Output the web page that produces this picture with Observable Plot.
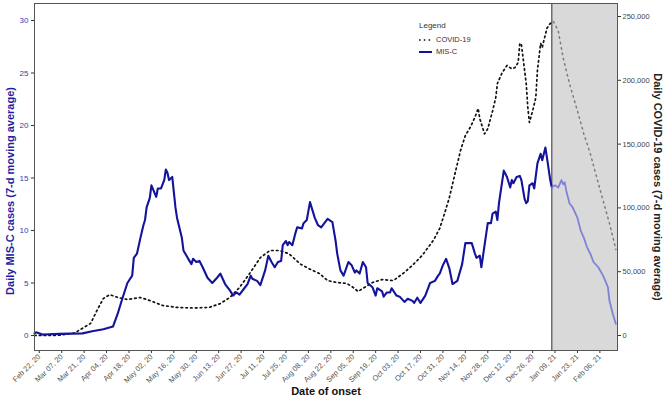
<!DOCTYPE html>
<html>
<head>
<meta charset="utf-8">
<script src="https://cdn.jsdelivr.net/npm/d3@7"></script>
<script src="https://cdn.jsdelivr.net/npm/@observablehq/plot@0.6"></script>
<style>
  body { margin: 0; background: #fff; font-family: "Liberation Sans", Arial, sans-serif; }
  #wrap { position: relative; width: 664px; height: 402px; }
  #legend { position: absolute; left: 419px; top: 20px; font-size: 7.5px; color: #333; line-height: 12.5px; }
  #legend .row { display: flex; align-items: center; }
  #legend svg { margin-right: 4px; }
</style>
</head>
<body>
<div id="wrap">
  <div id="chart"></div>
  <div id="legend"></div>
</div>
<script>
// ---- data ----
const misDates = ["2020-02-19","2020-02-20","2020-02-24","2020-03-06","2020-03-20","2020-03-26","2020-04-02","2020-04-08","2020-04-11","2020-04-14","2020-04-17","2020-04-20","2020-04-21","2020-04-23","2020-04-25","2020-04-27","2020-04-28","2020-04-29","2020-05-01","2020-05-02","2020-05-05","2020-05-06","2020-05-08","2020-05-10","2020-05-11","2020-05-12","2020-05-13","2020-05-15","2020-05-17","2020-05-18","2020-05-21","2020-05-22","2020-05-25","2020-05-27","2020-05-28","2020-05-30","2020-06-01","2020-06-03","2020-06-06","2020-06-09","2020-06-12","2020-06-14","2020-06-17","2020-06-20","2020-06-22","2020-06-24","2020-06-26","2020-06-29","2020-07-01","2020-07-03","2020-07-04","2020-07-07","2020-07-09","2020-07-12","2020-07-14","2020-07-16","2020-07-18","2020-07-20","2020-07-22","2020-07-23","2020-07-25","2020-07-26","2020-07-27","2020-07-29","2020-07-31","2020-08-01","2020-08-04","2020-08-05","2020-08-07","2020-08-09","2020-08-12","2020-08-14","2020-08-16","2020-08-18","2020-08-20","2020-08-23","2020-08-25","2020-08-26","2020-08-28","2020-08-30","2020-09-02","2020-09-04","2020-09-06","2020-09-07","2020-09-09","2020-09-11","2020-09-13","2020-09-14","2020-09-17","2020-09-19","2020-09-20","2020-09-23","2020-09-24","2020-09-26","2020-09-28","2020-09-29","2020-10-02","2020-10-04","2020-10-07","2020-10-09","2020-10-12","2020-10-13","2020-10-15","2020-10-17","2020-10-20","2020-10-23","2020-10-26","2020-10-28","2020-10-29","2020-10-31","2020-11-02","2020-11-04","2020-11-06","2020-11-09","2020-11-12","2020-11-14","2020-11-16","2020-11-18","2020-11-20","2020-11-21","2020-11-23","2020-11-24","2020-11-28","2020-11-30","2020-12-01","2020-12-03","2020-12-04","2020-12-05","2020-12-08","2020-12-09","2020-12-10","2020-12-12","2020-12-13","2020-12-14","2020-12-16","2020-12-18","2020-12-19","2020-12-21","2020-12-22","2020-12-23","2020-12-24","2020-12-26","2020-12-27","2020-12-29","2020-12-31","2021-01-01","2021-01-03","2021-01-04","2021-01-06","2021-01-07","2021-01-09","2021-01-11","2021-01-13","2021-01-14","2021-01-15","2021-01-16","2021-01-18","2021-01-20","2021-01-23","2021-01-25","2021-01-27","2021-01-29","2021-01-31","2021-02-02","2021-02-05","2021-02-08","2021-02-11","2021-02-12","2021-02-14","2021-02-16"];
const misValues = [0.2,0.3,0.1,0.15,0.2,0.4,0.6,0.85,2.1,3.6,5.0,5.7,7.4,7.8,9.2,10.5,11,12.2,13.1,14.3,13.2,14,14,14.8,15.8,15.5,14.8,15.1,12.2,11.2,9.3,8.1,7.3,6.8,7.3,7.0,7.1,6.5,5.5,5.0,5.5,5.9,4.9,4.3,3.8,4.1,3.9,4.5,4.9,5.7,5.4,5.2,4.8,6.2,7.6,7.0,6.5,7.0,7.1,8.6,9.0,8.6,8.9,8.6,9.8,10.3,10.2,10.7,11.0,12.7,11.2,10.5,10.3,10.7,11.1,10.8,9.0,7.8,6.2,5.7,7.0,6.7,6.0,6.2,5.9,7.0,6.5,5.0,4.6,3.8,4.5,4.2,3.7,4.1,4.1,4.5,3.8,3.7,3.2,3.5,3.3,3.1,3.6,3.1,3.8,5.0,5.2,5.7,5.9,6.7,7.3,6.4,4.9,5.2,6.8,8.8,8.8,8.8,7.8,7.4,7.6,6.5,10.7,10.7,11.6,11.8,11.0,12.6,15.7,15.4,15.1,14.1,14.8,14.5,15.1,15.2,14.8,13.0,12.6,12.8,14.3,14.5,14.0,16.4,17.3,16.7,17.9,16.9,14.8,14.1,14.3,14.1,14.8,14.4,14.6,13.8,12.6,12.2,11.2,10.0,9.3,8.4,7.8,7.0,6.5,5.7,4.6,3.3,2.1,1.1];

const covidDates = ["2020-02-19","2020-03-06","2020-03-15","2020-03-25","2020-03-29","2020-04-02","2020-04-06","2020-04-11","2020-04-17","2020-04-25","2020-05-01","2020-05-09","2020-05-18","2020-05-28","2020-06-07","2020-06-14","2020-06-20","2020-06-26","2020-07-02","2020-07-09","2020-07-15","2020-07-21","2020-07-27","2020-08-03","2020-08-09","2020-08-15","2020-08-20","2020-08-26","2020-09-01","2020-09-05","2020-09-08","2020-09-12","2020-09-17","2020-09-23","2020-09-30","2020-10-06","2020-10-12","2020-10-18","2020-10-25","2020-10-29","2020-11-01","2020-11-04","2020-11-07","2020-11-11","2020-11-14","2020-11-17","2020-11-20","2020-11-22","2020-11-23","2020-11-24","2020-11-26","2020-11-28","2020-12-01","2020-12-03","2020-12-04","2020-12-07","2020-12-10","2020-12-13","2020-12-15","2020-12-17","2020-12-18","2020-12-19","2020-12-20","2020-12-22","2020-12-23","2020-12-24","2020-12-26","2020-12-28","2020-12-29","2020-12-31","2021-01-01","2021-01-02","2021-01-04","2021-01-06","2021-01-08","2021-01-11","2021-01-14","2021-01-18","2021-01-23","2021-01-27","2021-01-31","2021-02-04","2021-02-08","2021-02-12","2021-02-16"];
const covidValues = [0,200,2000,9400,19600,29000,32000,29800,28200,29800,27400,23500,22000,21500,22000,25000,29800,37600,48000,61000,66600,66600,64000,56000,52000,48500,43000,41500,40800,37600,34500,37600,41500,43900,43000,48500,55000,62700,74500,83900,95600,108000,124000,145000,156700,163000,171000,178000,170000,166000,158000,162000,176000,186500,197500,206000,211600,209000,210000,214000,229000,228000,218000,197500,178700,167000,176000,186500,207700,229000,225700,231000,241000,244500,246000,239000,218000,197500,176000,158000,142600,124000,105800,87800,67400];

const xTickDates = ["2020-02-22","2020-03-07","2020-03-21","2020-04-04","2020-04-18","2020-05-02","2020-05-16","2020-05-30","2020-06-13","2020-06-27","2020-07-11","2020-07-25","2020-08-08","2020-08-22","2020-09-05","2020-09-19","2020-10-03","2020-10-17","2020-10-31","2020-11-14","2020-11-28","2020-12-12","2020-12-26","2021-01-09","2021-01-23","2021-02-06"];
const leftTicks = [0, 5, 10, 15, 20, 25, 30];
const rightTicks = [0, 50000, 100000, 150000, 200000, 250000];
const seriesNames = ["COVID-19", "MIS-C"];
const legendTitle = "Legend";
const xTitle = "Date of onset";
const leftTitle = "Daily MIS-C cases (7-d moving average)";
const rightTitle = "Daily COVID-19 cases (7-d moving average)";
const shadeStart = "2021-01-07";
const xDomain = ["2020-02-19", "2021-02-17"];
const covidPerMisUnit = 8229; // 250,000 on the right axis sits at ~30.4 on the left axis

// ---- build ----
const D = s => new Date(s + "T00:00:00Z");
const mis = misDates.map((d, i) => ({date: D(d), value: misValues[i]}));
const covid = covidDates.map((d, i) => ({date: D(d), value: covidValues[i] / covidPerMisUnit}));
const cut = D(shadeStart);
const misPre = mis.filter(d => d.date <= cut);
const misPost = mis.filter(d => d.date >= cut);
const firstCovPost = covid.find(d => d.date >= cut).date;
const covPre = covid.filter(d => d.date <= firstCovPost);
const covPost = covid.filter(d => d.date >= firstCovPost);

const darkBlue = "#13139b";
const lightBlue = "#7f82d8";
const font = "'Liberation Sans', Arial, sans-serif";

const chart = Plot.plot({
  width: 664,
  height: 402,
  marginLeft: 34,
  marginRight: 47,
  marginTop: 3,
  marginBottom: 52,
  style: {fontFamily: font, background: "#fff", overflow: "visible"},
  x: {type: "utc", domain: xDomain.map(D)},
  y: {domain: [-1.43, 31.62]},
  marks: [
    Plot.rect([{a: cut, b: D(xDomain[1])}], {x1: "a", x2: "b", fill: "#d9d9d9"}),
    Plot.ruleX([cut], {stroke: "#333", strokeWidth: 1}),
    Plot.line(covPre, {x: "date", y: "value", stroke: "#111", strokeWidth: 1.7, strokeDasharray: "1.6,3.2"}),
    Plot.line(covPost, {x: "date", y: "value", stroke: "#7a7a7a", strokeWidth: 1.5, strokeDasharray: "1.5,4"}),
    Plot.line(misPre, {x: "date", y: "value", stroke: darkBlue, strokeWidth: 2.1}),
    Plot.line(misPost, {x: "date", y: "value", stroke: lightBlue, strokeWidth: 1.8}),
    Plot.axisX(xTickDates.map(D), {
      tickFormat: d3.utcFormat("%b %d, %y"), tickRotate: -45, tickSize: 3, tickPadding: 2,
      fontSize: 7.5, fill: "#555", stroke: "#333", label: null
    }),
    Plot.axisY(leftTicks, {anchor: "left", tickSize: 3, tickPadding: 3, fontSize: 8, fill: "#3a3ab2", stroke: "#333", label: null}),
    Plot.axisY(rightTicks.map(r => r / covidPerMisUnit), {
      anchor: "right", tickSize: 3, tickPadding: 2, fontSize: 7.5, fill: "#444", stroke: "#333", label: null,
      tickFormat: d => d3.format(",")(Math.round(d * covidPerMisUnit / 1000) * 1000)
    }),
    Plot.frame({stroke: "#555", strokeWidth: 1}),
    Plot.text([leftTitle], {text: d => d, frameAnchor: "left", textAnchor: "middle", rotate: -90, dx: -24, dy: 14, fontSize: 11, fontWeight: "bold", fill: "#1f1fa3"}),
    Plot.text([rightTitle], {text: d => d, frameAnchor: "right", textAnchor: "middle", rotate: 90, dx: 40, dy: 10, fontSize: 11, fontWeight: "bold", fill: "#222"}),
    Plot.text([xTitle], {text: d => d, frameAnchor: "bottom", dy: 44, fontSize: 11, fontWeight: "bold", fill: "#111"})
  ]
});
document.getElementById("chart").appendChild(chart);

// legend
const lg = document.getElementById("legend");
const samples = [
  `<svg width="13" height="6"><line x1="0" y1="3" x2="13" y2="3" stroke="#111" stroke-width="1.7" stroke-dasharray="1.6,3.2"/></svg>`,
  `<svg width="13" height="6"><line x1="0" y1="3" x2="13" y2="3" stroke="${darkBlue}" stroke-width="2"/></svg>`
];
lg.innerHTML = `<div style="font-size:8px;margin-bottom:1px">${legendTitle}</div>` +
  seriesNames.map((n, i) => `<div class="row">${samples[i]}<span>${n}</span></div>`).join("");
</script>
</body>
</html>
